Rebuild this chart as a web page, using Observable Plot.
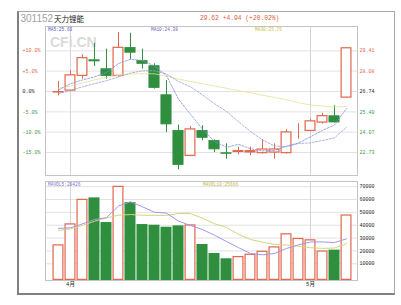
<!DOCTYPE html>
<html><head><meta charset="utf-8">
<script src="https://cdn.jsdelivr.net/npm/d3@7"></script>
<script src="https://cdn.jsdelivr.net/npm/@observablehq/plot@0.6"></script>
<style>
html,body{margin:0;padding:0;background:#fff;}
#wrap{position:relative;width:401px;height:305px;overflow:hidden;background:#fff;}
#frame{position:absolute;left:17px;top:11px;width:378px;height:284px;box-sizing:border-box;border:1px solid #a8a8a8;border-left:2px solid #808080;border-bottom:2px solid #808080;}
.layer{position:absolute;left:0;width:401px;}
.layer svg{max-width:none !important;}
</style></head>
<body><div id="wrap"><div id="frame"></div>
<svg id="back" class="layer" style="top:0" width="401" height="305">
  <text x="50" y="47" font-family="Liberation Sans, Arial, sans-serif" font-weight="bold" font-size="14" fill="#dadada">CFi.CN</text>
</svg>
<div id="price" class="layer" style="top:0"></div>
<div id="vol" class="layer" style="top:176px"></div>
<svg id="front" class="layer" style="top:0;pointer-events:none" width="401" height="305">
  <text x="20.5" y="21.5" font-family="Liberation Sans, Arial, sans-serif" font-size="10" fill="#a0a0a0">301152</text>
  <text x="54" y="21.5" font-family="Noto Sans CJK SC, sans-serif" font-size="7.5" fill="#222">天力锂能</text>
  <text x="200" y="20" font-family="Liberation Mono, DejaVu Sans Mono, monospace" font-size="6.3" fill="#e0603a">29.62 +4.94 (+20.02%)</text>
  <text x="48" y="31" font-family="Liberation Mono, monospace" font-size="4.5" fill="#4a5ac8">MA5:25.63</text>
  <text x="151" y="31" font-family="Liberation Mono, monospace" font-size="4.5" fill="#7060c0">MA10:24.38</text>
  <text x="255" y="31" font-family="Liberation Mono, monospace" font-size="4.5" fill="#c8c040">MA30:25.76</text>
  <text x="48" y="186" font-family="Liberation Mono, monospace" font-size="4.5" fill="#8070d0">MAVOL5:29426</text>
  <text x="203" y="186" font-family="Liberation Mono, monospace" font-size="4.5" fill="#c0b840">MAVOL10:25666</text>
</svg>
</div>
<script>
const dates = ["03-29","04-01","04-02","04-03","04-08","04-09","04-10","04-11","04-12","04-15","04-16","04-17","04-18","04-19","04-22","04-23","04-24","04-25","04-26","04-29","04-30","05-06","05-07","05-08","05-09"];
const open  = [26.64,26.76,27.73,28.82,28.23,27.73,29.63,28.78,28.43,26.52,24.18,22.47,24.18,23.52,22.71,22.73,22.70,22.65,22.69,22.65,23.86,24.11,24.66,25.14,26.30];
const high  = [27.40,28.10,29.15,29.91,29.52,30.62,30.57,29.52,28.56,27.46,24.53,24.44,24.49,23.55,23.30,23.08,23.08,23.57,23.30,24.22,24.62,24.90,25.31,25.80,29.62];
const low   = [26.45,26.74,27.55,28.38,27.55,27.68,28.82,28.21,26.90,24.05,21.60,22.45,23.50,22.73,22.29,22.58,22.52,22.63,22.29,22.63,23.61,24.10,24.60,24.66,26.30];
const close = [26.74,27.84,28.97,28.69,27.73,29.65,29.26,28.53,26.94,24.55,21.88,24.29,23.67,22.91,22.62,22.86,22.86,22.97,22.97,24.09,23.93,24.82,25.16,24.68,29.62];
const ma5   = [26.85,27.25,27.50,27.70,27.99,28.58,28.86,28.77,28.42,27.79,26.23,25.24,24.27,23.46,23.07,23.27,22.98,22.84,22.86,23.15,23.36,23.76,24.19,24.54,25.63];
const ma10  = [26.60,26.80,27.05,27.25,27.45,27.70,27.95,28.10,28.10,27.89,27.40,27.05,26.52,25.94,25.43,24.75,24.11,23.56,23.16,23.11,23.32,23.37,23.52,23.70,24.38];
const ma30  = [26.95,27.10,27.30,27.50,27.65,27.80,27.88,27.92,27.90,27.75,27.55,27.40,27.25,27.10,26.95,26.80,26.65,26.50,26.35,26.20,26.00,25.85,25.78,25.72,25.76];
const volume  = [24770,41070,60200,61250,42080,70270,57610,40530,40000,38430,39500,40270,25000,18000,13900,15680,17470,19800,23200,33380,29800,28700,20000,20630,48000];
const mavol5  = [37500,38000,41000,44500,45874,54974,58282,54348,50098,49368,43214,39746,36640,32240,27334,22570,18010,16970,18010,21906,24730,26976,27016,26502,29426];
const mavol10 = [35870,37170,39760,43100,45700,47770,48300,47770,47700,47621,49094,49014,45494,41169,38351,32892,28878,26805,25125,24620,23650,22493,21993,22256,25666];

const basePrice = 26.74;
const priceTicks = [29.41,28.08,26.74,25.40,24.07,22.73];
const priceTickLabels = ["29.41","28.08","26.74","25.40","24.07","22.73"];
const pctTickLabels = ["+10.0%","+5.0%","0.0%","-5.0%","-10.0%","-15.0%"];
const volTicks = [10000,20000,30000,40000,50000,60000,70000];
const monthTicks = ["04-01","05-06"];
const monthLabels = ["4月","5月"];
const priceDomain = [21.221, 31.011];
const volDomain = [-3000, 74000];

const rows = dates.map((date,i)=>({date, open:open[i], high:high[i], low:low[i], close:close[i],
  ma5:ma5[i], ma10:ma10[i], ma30:ma30[i], volume:volume[i], mavol5:mavol5[i], mavol10:mavol10[i]}));

const red = "#e0674d", green = "#2f8f3f", ink = "#1a1a1a";
const mono = "Liberation Mono, DejaVu Sans Mono, Noto Sans CJK SC, monospace";
const up = d => d.close >= d.open;
const down = d => d.close < d.open;
const xScale = {type:"band", domain: dates, round: false, paddingInner: 1/12, paddingOuter: 0.54, align: 0.577, axis: null};

const tickRows = priceTicks.map((v,i)=>({v, pct:pctTickLabels[i], lab:priceTickLabels[i]}));
const tone = d => d.v > basePrice + 1e-6 ? "pos" : d.v < basePrice - 1e-6 ? "neg" : "zero";
const toneColor = {pos: red, neg: "#3a9a48", zero: ink};
function tickText(side) {
  return ["pos","zero","neg"].map(t => Plot.text(tickRows, {
    filter: d => tone(d) === t, y: "v", text: side === "left" ? "pct" : "lab",
    frameAnchor: side, dx: side === "left" ? -23 : 2, textAnchor: "start",
    fill: toneColor[t], fontSize: 5, fontFamily: mono
  }));
}

const pricePlot = Plot.plot({
  width: 401, height: 180, marginLeft: 45, marginRight: 44, marginTop: 26, marginBottom: 5,
  style: {background: "transparent", overflow: "visible", fontFamily: mono},
  x: xScale,
  y: {domain: priceDomain, axis: null},
  marks: [
    Plot.gridY(priceTicks, {stroke: "#e2e2e2", strokeOpacity: 1}),
    Plot.gridX(monthTicks, {stroke: "#d4d4d4", strokeOpacity: 1}),
    Plot.frame({stroke: "#c4c4c4"}),
    Plot.ruleX(rows, {filter: down, x: "date", y1: "low", y2: "high", stroke: green}),
    Plot.ruleX(rows, {filter: up, x: "date", y1: "low", y2: "high", stroke: red}),
    Plot.barY(rows, {filter: down, x: "date", y1: "open", y2: "close", fill: green, stroke: green, strokeWidth: 0.8, inset: 0.4}),
    Plot.barY(rows, {filter: up, x: "date", y1: "open", y2: "close", fill: "white", stroke: red, strokeWidth: 1.2, inset: 0.6}),
    Plot.lineY(rows, {x: "date", y: "ma30", stroke: "#e2e294", strokeWidth: 0.8}),
    Plot.lineY(rows, {x: "date", y: "ma10", stroke: "#9c9cdc", strokeWidth: 0.8, strokeDasharray: "2,1.5"}),
    Plot.lineY(rows, {x: "date", y: "ma5", stroke: "#7d8ee0", strokeWidth: 0.8, strokeDasharray: "2,1.5"}),
    ...tickText("left"), ...tickText("right")
  ]
});
document.getElementById("price").appendChild(pricePlot);

const volPlot = Plot.plot({
  width: 401, height: 129, marginLeft: 45, marginRight: 44, marginTop: 5, marginBottom: 25,
  style: {background: "transparent", overflow: "visible", fontFamily: mono},
  x: xScale,
  y: {domain: volDomain, axis: null},
  marks: [
    Plot.gridY(volTicks, {stroke: "#e2e2e2", strokeOpacity: 1}),
    Plot.gridX(monthTicks, {stroke: "#d4d4d4", strokeOpacity: 1}),
    Plot.frame({stroke: "#c4c4c4"}),
    Plot.barY(rows, {filter: down, x: "date", y1: volDomain[0], y2: "volume", fill: green}),
    Plot.barY(rows, {filter: up, x: "date", y1: volDomain[0], y2: "volume", fill: "white", stroke: red, strokeWidth: 1.2, inset: 0.6}),
    Plot.lineY(rows, {x: "date", y: "mavol10", stroke: "#d6d47a", strokeWidth: 1}),
    Plot.lineY(rows, {x: "date", y: "mavol5", stroke: "#a496e6", strokeWidth: 1}),
    Plot.text(volTicks, {y: d => d, text: d => String(d), frameAnchor: "right", dx: 2, textAnchor: "start", fontSize: 5, fill: ink, fontFamily: mono}),
    Plot.axisX(monthTicks, {tickSize: 0, tickPadding: 2, tickFormat: d => monthLabels[monthTicks.indexOf(d)], fontSize: 5.5, label: null, fill: ink})
  ]
});
document.getElementById("vol").appendChild(volPlot);
</script>
</body></html>
